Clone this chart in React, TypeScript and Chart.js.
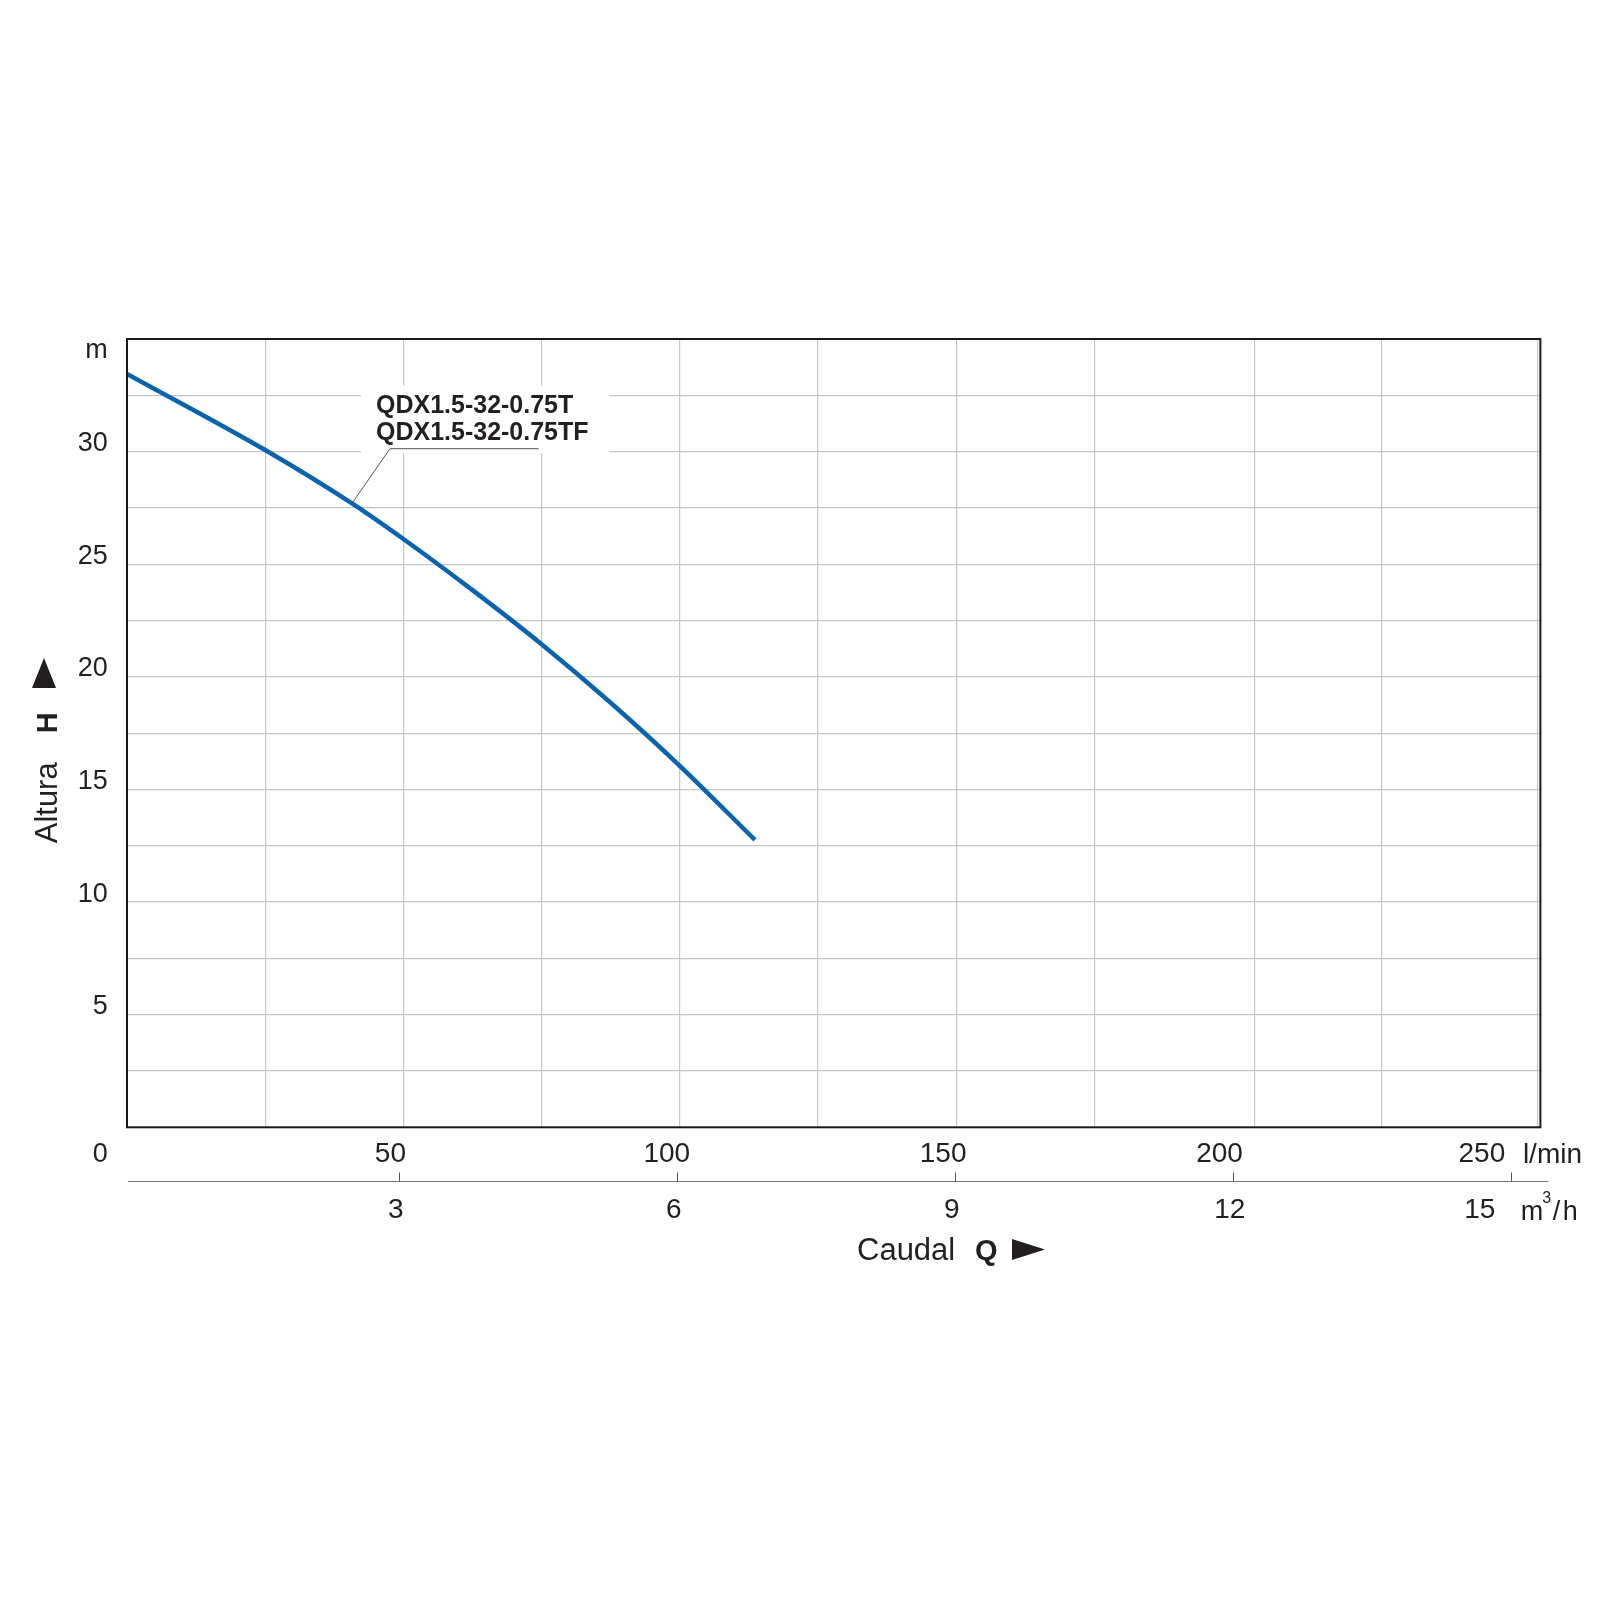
import React, { useEffect, useRef } from 'react';
import { Chart, registerables } from 'chart.js';

Chart.register(...registerables);

// ---- data ----
const flowLpm = [0, 25, 40.7, 50, 62.5, 75, 87.5, 100, 113.6];
const headM = [33.45, 30.07, 27.7, 26.12, 23.85, 21.45, 18.85, 16.05, 12.76];
const xGridLpm = [25, 50, 75, 100, 125, 150, 175, 204, 227, 255.2];
const lpmTickLabels = [50, 100, 150, 200, 250];
const m3hTickLabels = [3, 6, 9, 12, 15];
const yGridM = [2.5, 5, 7.5, 10, 12.5, 15, 17.5, 20, 22.5, 25, 27.5, 30, 32.5];
const yTickLabels = [5, 10, 15, 20, 25, 30];
const seriesLabels = ['QDX1.5-32-0.75T', 'QDX1.5-32-0.75TF'];
const annotationIndex = 2;
const X_MAX = 255.7;
const Y_MAX = 35;
const M3H_MIN = 0.0674;
const M3H_MAX = 15.319;

const FONT = "'Liberation Sans', Arial, Helvetica, sans-serif";
const INK = '#231f20';
const GRID = '#c6c6c6';
const CURVE = '#0a63ad';

const decor: any = {
  id: 'decor',
  beforeDatasetsDraw(chart: any) {
    const { ctx } = chart;
    const xs = chart.scales.x;
    const ys = chart.scales.y;
    const ax = xs.getPixelForValue(flowLpm[annotationIndex]);
    const ay = ys.getPixelForValue(headM[annotationIndex]);
    const ex = ax + 38;
    const ey = ay - 54.7;
    ctx.save();
    ctx.fillStyle = '#ffffff';
    ctx.fillRect(ex - 29, ey - 63.3, 248.5, 67.7);
    ctx.restore();
  },
  afterDraw(chart: any) {
    const { ctx, chartArea: ca } = chart;
    const xs = chart.scales.x;
    const ys = chart.scales.y;
    const xm = chart.scales.xm;
    ctx.save();

    // frame
    ctx.strokeStyle = '#1a1a1a';
    ctx.lineWidth = 2;
    ctx.strokeRect(ca.left, ca.top, ca.right - ca.left, ca.bottom - ca.top);

    // annotation leader + text
    const ax = xs.getPixelForValue(flowLpm[annotationIndex]);
    const ay = ys.getPixelForValue(headM[annotationIndex]);
    const ex = ax + 38;
    const ey = ay - 54.7;
    ctx.strokeStyle = '#555555';
    ctx.lineWidth = 1;
    ctx.beginPath();
    ctx.moveTo(ax, ay);
    ctx.lineTo(ex, ey);
    ctx.lineTo(ex + 148.6, ey);
    ctx.stroke();
    ctx.fillStyle = INK;
    ctx.font = `bold 25px ${FONT}`;
    ctx.textAlign = 'left';
    ctx.textBaseline = 'alphabetic';
    ctx.fillText(seriesLabels[0], ex - 14, ey - 35.6);
    ctx.fillText(seriesLabels[1], ex - 14, ey - 8.3);

    // m3/h axis line and upward ticks
    const ly = Math.round(xm.top) + 0.5;
    ctx.strokeStyle = '#7a7a7a';
    ctx.lineWidth = 1.2;
    ctx.beginPath();
    ctx.moveTo(ca.left + 1, ly);
    ctx.lineTo(ca.right + 8, ly);
    ctx.stroke();
    ctx.strokeStyle = '#555555';
    ctx.lineWidth = 1;
    for (const v of m3hTickLabels) {
      const px = Math.round(xm.getPixelForValue(v)) + 0.5;
      ctx.beginPath();
      ctx.moveTo(px, ly - 9);
      ctx.lineTo(px, ly);
      ctx.stroke();
    }

    ctx.fillStyle = INK;
    // y unit and zero
    ctx.font = `27px ${FONT}`;
    ctx.textAlign = 'right';
    ctx.textBaseline = 'alphabetic';
    ctx.fillText('m', ca.left - 19.3, ca.top + 18.5);
    ctx.fillText('0', ca.left - 19.3, ca.bottom + 34.4);

    // l/min unit
    ctx.font = `28px ${FONT}`;
    ctx.textAlign = 'left';
    ctx.fillText('l/min', xs.getPixelForValue(250) + 14, ca.bottom + 35.4);

    // m3/h unit
    const ux = xm.getPixelForValue(15) + 10;
    const uy = xm.top + 39;
    ctx.font = `27px ${FONT}`;
    ctx.fillText('m', ux, uy);
    ctx.font = `16px ${FONT}`;
    ctx.fillText('3', ux + 21.5, uy - 17);
    ctx.font = `27px ${FONT}`;
    ctx.fillText('/', ux + 32, uy);
    ctx.fillText('h', ux + 42, uy);

    // x title: Caudal Q ►
    ctx.font = `31px ${FONT}`;
    ctx.fillText('Caudal', 857, 1260);
    ctx.font = `bold 29px ${FONT}`;
    ctx.fillText('Q', 975, 1260);
    ctx.beginPath();
    ctx.moveTo(1012, 1239);
    ctx.lineTo(1045, 1249.5);
    ctx.lineTo(1012, 1260);
    ctx.closePath();
    ctx.fill();

    // y title: Altura H ▲ (rotated)
    ctx.save();
    ctx.translate(56.7, 843.3);
    ctx.rotate(-Math.PI / 2);
    ctx.font = `31px ${FONT}`;
    ctx.fillText('Altura', 0, 0);
    ctx.font = `bold 29px ${FONT}`;
    ctx.fillText('H', 110, 0);
    ctx.restore();
    ctx.beginPath();
    ctx.moveTo(32, 688);
    ctx.lineTo(44, 658);
    ctx.lineTo(56, 688);
    ctx.closePath();
    ctx.fill();

    ctx.restore();
  },
};

export default function App() {
  const ref = useRef<HTMLCanvasElement>(null);

  useEffect(() => {
    const canvas = ref.current;
    if (!canvas) return;
    Chart.defaults.font.family = FONT;
    const lastM3h = m3hTickLabels[m3hTickLabels.length - 1];
    const lastLpm = lpmTickLabels[lpmTickLabels.length - 1];
    const chart = new Chart(canvas, {
      type: 'line',
      data: {
        datasets: [
          {
            label: seriesLabels[0],
            data: flowLpm.map((q, i) => ({ x: q, y: headM[i] })),
            borderColor: CURVE,
            borderWidth: 4.5,
            pointRadius: 0,
            cubicInterpolationMode: 'monotone',
            fill: false,
            xAxisID: 'x',
            yAxisID: 'y',
          } as any,
        ],
      },
      options: {
        animation: false,
        responsive: false,
        devicePixelRatio: 1,
        events: [],
        layout: { padding: { top: 339, right: 59.6, bottom: 359, left: 0 } },
        plugins: {
          legend: { display: false },
          tooltip: { enabled: false },
          title: { display: false },
        },
        scales: {
          x: {
            type: 'linear',
            position: 'bottom',
            min: 0,
            max: X_MAX,
            weight: 0,
            afterBuildTicks: (s: any) => {
              s.ticks = xGridLpm.map((v) => ({ value: v }));
            },
            afterFit: (s: any) => {
              s.height = 0;
            },
            grid: { color: GRID, lineWidth: 1.2, drawTicks: false },
            border: { display: false },
            ticks: { display: false },
          },
          xq: {
            type: 'linear',
            position: 'bottom',
            min: 0,
            max: X_MAX,
            weight: 1,
            afterBuildTicks: (s: any) => {
              s.ticks = lpmTickLabels.map((v) => ({ value: v }));
            },
            afterFit: (s: any) => {
              s.height = 53.7;
            },
            grid: { display: false, drawTicks: false },
            border: { display: false },
            ticks: {
              font: { size: 28 },
              color: INK,
              padding: 10.5,
              labelOffset: -13,
              maxRotation: 0,
              autoSkip: false,
              callback: (v: any) =>
                Number(v) === lastLpm ? String(v) + '\u2003' : String(v),
            },
          },
          xm: {
            type: 'linear',
            position: 'bottom',
            min: M3H_MIN,
            max: M3H_MAX,
            weight: 2,
            afterBuildTicks: (s: any) => {
              s.ticks = m3hTickLabels.map((v) => ({ value: v }));
            },
            afterFit: (s: any) => {
              s.height = 60;
            },
            grid: { display: false, drawTicks: false },
            border: { display: false },
            ticks: {
              font: { size: 28 },
              color: INK,
              padding: 12.5,
              labelOffset: -3,
              maxRotation: 0,
              autoSkip: false,
              callback: (v: any) =>
                Number(v) === lastM3h ? String(v) + '\u2003\u2003' : String(v),
            },
          },
          y: {
            type: 'linear',
            position: 'left',
            min: 0,
            max: Y_MAX,
            afterBuildTicks: (s: any) => {
              s.ticks = yGridM.map((v) => ({ value: v }));
            },
            afterFit: (s: any) => {
              s.width = 127;
            },
            grid: { color: GRID, lineWidth: 1.2, drawTicks: false },
            border: { display: false },
            ticks: {
              font: { size: 27 },
              color: INK,
              padding: 19.3,
              labelOffset: -8,
              autoSkip: false,
              callback: (v: any) => (yTickLabels.includes(Number(v)) ? String(v) : ''),
            },
          },
        },
      } as any,
      plugins: [decor],
    });
    return () => chart.destroy();
  }, []);

  return (
    <div style={{ position: 'absolute', left: 0, top: 0, width: 1600, height: 1600, background: '#ffffff' }}>
      <canvas ref={ref} width={1600} height={1600} style={{ display: 'block' }} />
    </div>
  );
}
